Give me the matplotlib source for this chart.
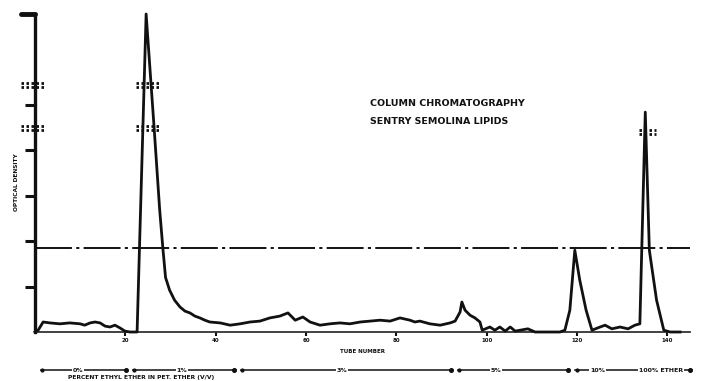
import matplotlib
matplotlib.use("Agg")
import matplotlib.pyplot as plt
from matplotlib.transforms import blended_transform_factory

# Elution profile: tube number vs optical density
tube = [0, 0.7, 1.8, 3.3, 5.5, 7.7, 10, 11, 12.2, 13.3, 14.4, 15.5, 16.6, 17.7,
        18.8, 19.9, 21, 22.1, 22.6, 24.6, 25.7, 26.4, 27.6, 28.3, 28.9, 29.8,
        30.9, 32.1, 33.2, 34.3, 35.4, 36.5, 37.6, 38.7, 41, 43.2, 45.4, 47.6,
        49.8, 52, 54.2, 56, 57.6, 59.3, 60.9, 63.1, 65.3, 67.5, 69.7, 72,
        74.2, 76.4, 78.6, 80.8, 83, 84.1, 85.2, 87.4, 89.7, 91.9, 93, 94.1,
        94.5, 95.2, 96.3, 97.4, 98.5, 99, 100.7, 101.8, 102.9, 104.1, 105.2,
        106.3, 109.1, 110.7, 116.2, 117.3, 118.4, 119.5, 120.6, 122, 123.3,
        125.1, 126.2, 127.7, 129.5, 131.3, 132.8, 133.9, 135.1, 136, 137.6,
        139.2, 140.6, 142.8]
density = [0, 0.04, 0.22, 0.20, 0.18, 0.20, 0.18, 0.15, 0.20, 0.22, 0.20, 0.13,
           0.11, 0.15, 0.09, 0.02, 0, 0, 0, 7.0, 5.44, 4.45, 2.69, 1.85, 1.20,
           0.92, 0.70, 0.55, 0.46, 0.42, 0.35, 0.31, 0.26, 0.22, 0.20, 0.15,
           0.18, 0.22, 0.24, 0.31, 0.35, 0.42, 0.26, 0.33, 0.22, 0.15, 0.18,
           0.20, 0.18, 0.22, 0.24, 0.26, 0.24, 0.31, 0.26, 0.22, 0.24, 0.18,
           0.15, 0.20, 0.24, 0.44, 0.66, 0.48, 0.37, 0.31, 0.22, 0.04, 0.11,
           0.04, 0.11, 0.02, 0.11, 0.02, 0.07, 0, 0, 0.04, 0.48, 1.80, 1.14,
           0.48, 0.04, 0.11, 0.15, 0.07, 0.11, 0.07, 0.15, 0.18, 4.84, 1.80,
           0.70, 0.04, 0, 0]

x_ticks = [20, 40, 60, 80, 100, 120, 140]
x_tick_labels = ["20", "40", "60", "80", "100", "120", "140"]
y_ticks = [1, 2, 3, 4, 5, 7]
reference_level = 1.85

# Solvent programme: change points (tube) and labels
solvent_edges = [0.7, 21, 45, 93, 119, 135.5, 146]
solvent_labels = ["0%", "1%", "3%", "5%", "10%", "100% ETHER"]
solvent_label_pos = [9.5, 32.5, 68, 102, 124.5, 138.5]

# Scale-break positions (optical density) on axis and peaks
breaks_axis = [5.44, 4.49]
breaks_peak1 = [5.44, 4.49]
breaks_peak4 = [4.40]

W, H = 709, 381
fig = plt.figure(figsize=(W / 100, H / 100), dpi=100)
ax = fig.add_axes([35 / W, 1 - 332 / H, 655 / W, 318 / H])
ax.set_xlim(0, 145)
ax.set_ylim(0, 7.0)

ink = "#111111"
ax.plot(tube, density, color=ink, lw=2.0, solid_joinstyle="round",
        clip_on=False, zorder=3)

# horizontal dot-dash reference line
ax.axhline(reference_level, color=ink, lw=1.4, ls=(0, (19, 2.2, 1.6, 2.2)),
           zorder=2)

for sp in ["top", "right"]:
    ax.spines[sp].set_visible(False)
ax.spines["left"].set_linewidth(2.4)
ax.spines["left"].set_color(ink)
ax.spines["bottom"].set_linewidth(1.3)
ax.spines["bottom"].set_color("#333333")

ax.set_yticks(y_ticks)
ax.set_yticklabels([])
ax.tick_params(axis="y", length=7, width=2.2, color=ink, direction="out")
ax.set_xticks(x_ticks)
ax.set_xticklabels(x_tick_labels, fontsize=4, fontweight="bold", color=ink)
ax.tick_params(axis="x", length=3, width=1.5, color=ink, pad=1)

# thick cap at the top of the ordinate
ax.plot([-3.0, 0], [7.0, 7.0], color=ink, lw=3.5, clip_on=False,
        solid_capstyle="round")


def break_mark(x0, x1, y):
    for dy in (-0.05, 0.05):
        ax.plot([x0, x1], [y + dy, y + dy], color=ink, lw=2.0,
                ls=(0, (0.9, 0.9)), clip_on=False, zorder=4)


for y in breaks_axis:
    break_mark(-3.0, 2.2, y)
for y in breaks_peak1:
    break_mark(22.3, 27.6, y)
for y in breaks_peak4:
    break_mark(133.6, 137.4, y)

ax.set_ylabel("OPTICAL DENSITY", fontsize=4.2, fontweight="bold",
              color=ink, labelpad=7)
ax.yaxis.set_label_coords(-0.025, 0.47)
ax.set_xlabel("TUBE NUMBER", fontsize=4, fontweight="bold", color=ink)
ax.xaxis.set_label_coords(0.5, -0.055)

ax.text(370 / W, 1 - 103 / H, "COLUMN CHROMATOGRAPHY", transform=fig.transFigure,
        fontsize=6.8, fontweight="bold", color=ink, va="center", ha="left")
ax.text(370 / W, 1 - 122 / H, "SENTRY SEMOLINA LIPIDS", transform=fig.transFigure,
        fontsize=6.8, fontweight="bold", color=ink, va="center", ha="left")

# solvent gradient row beneath the abscissa
tr = blended_transform_factory(ax.transData, ax.transAxes)
row_y = -0.12
for i in range(len(solvent_labels)):
    a, b = solvent_edges[i], solvent_edges[i + 1]
    ax.plot([a + 0.6, b - 0.6], [row_y, row_y], transform=tr, color=ink,
            lw=1.1, clip_on=False)
    ax.plot([b - 0.9], [row_y], transform=tr, marker="o", ms=2.6, color=ink,
            clip_on=False)
    ax.plot([a + 0.9], [row_y], transform=tr, marker="o", ms=2.0, color=ink,
            clip_on=False)
    ax.text(solvent_label_pos[i], row_y, solvent_labels[i], transform=tr,
            fontsize=4.5, fontweight="bold", color=ink, ha="center",
            va="center", clip_on=False,
            bbox=dict(facecolor="white", edgecolor="none", pad=0.6))

fig.text(68 / W, 1.5 / H, "PERCENT ETHYL ETHER IN PET. ETHER (V/V)",
         fontsize=4.3, fontweight="bold", color=ink, ha="left", va="bottom")

fig.savefig("out.png", dpi=100, facecolor="white")
